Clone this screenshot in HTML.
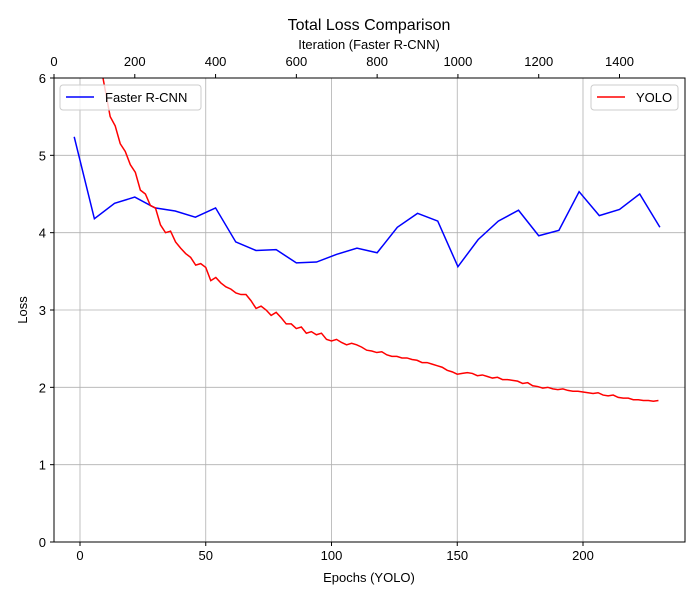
<!DOCTYPE html>
<html><head><meta charset="utf-8"><style>
body{margin:0;background:#fff;}
svg{font-family:"Liberation Sans","DejaVu Sans",sans-serif;}
</style></head><body>
<svg id="chart" width="700" height="600">
<defs><clipPath id="clip"><rect x="54" y="78" width="631" height="464"/></clipPath></defs>
<text x="369" y="30" font-size="16" text-anchor="middle">Total Loss Comparison</text>
<text x="369" y="49" font-size="13" text-anchor="middle">Iteration (Faster R-CNN)</text>
<text x="369" y="582" font-size="13" text-anchor="middle">Epochs (YOLO)</text>
<text x="27" y="310" font-size="13" text-anchor="middle" transform="rotate(-90 27 310)">Loss</text>
<g id="grid"></g><g id="axes"></g>
<g clip-path="url(#clip)"><g id="series"></g></g>
<rect x="54" y="78" width="631" height="464" fill="none" stroke="#000" stroke-width="1"/>
<g>
<rect x="60" y="85" width="141" height="25" rx="3" fill="#fff" fill-opacity="0.8" stroke="#ccc"/>
<line x1="66" y1="97" x2="94" y2="97" stroke="#0000ff" stroke-width="1.5"/>
<text x="105" y="102" font-size="13">Faster R-CNN</text></g>
<g>
<rect x="591" y="85" width="87" height="25" rx="3" fill="#fff" fill-opacity="0.8" stroke="#ccc"/>
<line x1="597" y1="97" x2="625" y2="97" stroke="#ff0000" stroke-width="1.5"/>
<text x="636" y="102" font-size="13">YOLO</text></g>
</svg>
<script>
const frcnnIters=[50,100,150,200,250,300,350,400,450,500,550,600,650,700,750,800,850,900,950,1000,1050,1100,1150,1200,1250,1300,1350,1400,1450,1500];
const frcnnLoss=[5.24,4.18,4.38,4.46,4.32,4.28,4.2,4.32,3.88,3.77,3.78,3.61,3.62,3.72,3.8,3.74,4.07,4.25,4.15,3.56,3.91,4.15,4.29,3.96,4.03,4.53,4.22,4.3,4.5,4.07];
const yoloLoss=[7.6,7.3,7.0,6.6,6.2,5.85,5.5,5.38,5.15,5.05,4.88,4.78,4.55,4.5,4.35,4.32,4.1,4.0,4.02,3.88,3.8,3.73,3.68,3.58,3.6,3.55,3.38,3.42,3.35,3.3,3.27,3.22,3.2,3.2,3.12,3.02,3.05,3.0,2.93,2.97,2.9,2.82,2.82,2.76,2.78,2.7,2.72,2.68,2.7,2.62,2.6,2.62,2.58,2.55,2.57,2.55,2.52,2.48,2.47,2.45,2.46,2.42,2.4,2.4,2.38,2.38,2.36,2.35,2.32,2.32,2.3,2.28,2.26,2.22,2.2,2.17,2.18,2.19,2.18,2.15,2.16,2.14,2.12,2.13,2.1,2.1,2.09,2.08,2.05,2.06,2.02,2.01,1.99,2.0,1.98,1.97,1.98,1.96,1.95,1.95,1.94,1.93,1.92,1.93,1.9,1.89,1.9,1.87,1.86,1.86,1.84,1.84,1.83,1.83,1.82,1.83];
const yoloEpochStep=2;
const xTicks=[0,50,100,150,200];
const topTicks=[0,200,400,600,800,1000,1200,1400];
const yTicks=[0,1,2,3,4,5,6];
const NS="http://www.w3.org/2000/svg";
const xE=e=>80+(e-0)*(583-80)/200;
const xI=i=>54+i*(619.5-54)/1400;
const yL=v=>542-v*(542-78)/6;
function mk(t,a,p){const el=document.createElementNS(NS,t);for(const k in a)el.setAttribute(k,a[k]);p.appendChild(el);return el;}
const grid=document.getElementById('grid'),axes=document.getElementById('axes'),ser=document.getElementById('series');
xTicks.forEach(t=>{const x=xE(t);
const g=mk('line',{x1:x,x2:x,y1:78,y2:542,stroke:'#b0b0b0','stroke-width':0.8},grid);

mk('line',{x1:x,x2:x,y1:542,y2:546,stroke:'#000'},axes);
const l=mk('text',{x:x,y:560,'font-size':13,'text-anchor':'middle'},axes);l.textContent=t;
});
topTicks.forEach(t=>{const x=xI(t);
mk('line',{x1:x,x2:x,y1:78,y2:74,stroke:'#000'},axes);
const l=mk('text',{x:x,y:66,'font-size':13,'text-anchor':'middle'},axes);l.textContent=t;
});
yTicks.forEach(t=>{const y=yL(t);
const g=mk('line',{x1:54,x2:685,y1:y,y2:y,stroke:'#b0b0b0','stroke-width':0.8},grid);

mk('line',{x1:50,x2:54,y1:y,y2:y,stroke:'#000'},axes);
const l=mk('text',{x:46,y:y+5,'font-size':13,'text-anchor':'end'},axes);l.textContent=t;
});
const p1=mk('polyline',{points:frcnnIters.map((it,i)=>xI(it)+','+yL(frcnnLoss[i])).join(' '),fill:'none',stroke:'#0000ff','stroke-width':1.5},ser);

const p2=mk('polyline',{points:yoloLoss.map((v,i)=>xE(i*yoloEpochStep)+','+yL(v)).join(' '),fill:'none',stroke:'#ff0000','stroke-width':1.5},ser);

</script>
</body></html>
